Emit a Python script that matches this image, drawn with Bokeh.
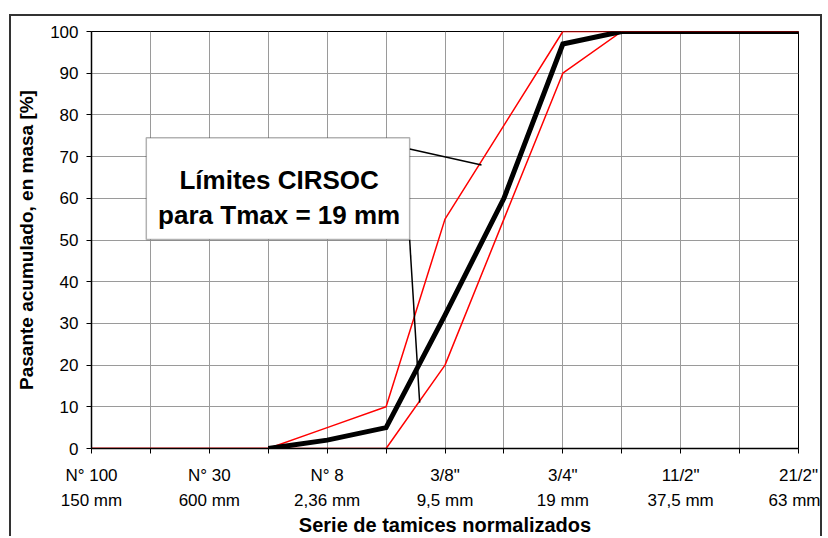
import math

from bokeh.plotting import figure
from bokeh.models import (FixedTicker, LinearAxis, Range1d, BoxAnnotation,
                          Label, ColumnDataSource)
from bokeh.embed import file_html
from bokeh.resources import INLINE

# Sieve series (x positions are the sieve index along the axis)
sieves = ["N° 100", "N° 50", "N° 30", "N° 16", "N° 8", "N° 4",
          '3/8"', '1/2"', '3/4"', '1"', '11/2"', '2"', '21/2"']
openings = ["150 mm", "300 mm", "600 mm", "1,18 mm", "2,36 mm", "4,75 mm",
            "9,5 mm", "12,5 mm", "19 mm", "25 mm", "37,5 mm", "50 mm", "63 mm"]
label_step = 2  # only every other sieve is labelled

nan = math.nan
# Cumulative % passing of the aggregate
pasante = [nan, nan, nan, 0, 2, 5, 32, 60, 97, 100, 100, 100, 100]
# CIRSOC grading limits for Tmax = 19 mm
limite_superior = [0, 0, 0, 0, 5, 10, 55, 77.5, 100, 100, 100, 100, 100]
limite_inferior = [0, 0, 0, 0, 0, 0, 20, 55, 90, 100, 100, 100, 100]

y_ticks = list(range(0, 101, 10))

FONT = "Liberation Sans"

idx = list(range(len(sieves)))
src = ColumnDataSource(dict(x=idx, pasante=pasante, sup=limite_superior,
                            inf=limite_inferior))

p = figure(width=813, height=522, x_range=Range1d(0, len(sieves) - 1),
           y_range=Range1d(0, 100), output_backend="svg",
           toolbar_location=None,
           min_border_left=80, min_border_right=26,
           min_border_top=15, min_border_bottom=90,
           margin=(14, 0, 0, 9),
           styles={"border-top": "2px solid #333",
                   "border-left": "2px solid #333",
                   "border-right": "2px solid #333"})
p.background_fill_color = "white"
p.border_fill_color = "white"
p.outline_line_color = "black"
p.outline_line_width = 1

# Grid
sieve_ticker = FixedTicker(ticks=idx)
p.xgrid.ticker = sieve_ticker
p.ygrid.ticker = FixedTicker(ticks=y_ticks)
for g in (p.xgrid[0], p.ygrid[0]):
    g.grid_line_color = "#9a9a9a"
    g.grid_line_width = 1

# Y axis
ya = p.yaxis[0]
ya.ticker = FixedTicker(ticks=y_ticks)
ya.axis_label = "Pasante acumulado, en masa [%]"
ya.axis_label_text_font = FONT
ya.axis_label_text_font_style = "bold"
ya.axis_label_text_font_size = "19px"
ya.axis_label_text_color = "black"
ya.axis_label_standoff = 10
ya.major_label_text_font = FONT
ya.major_label_text_font_size = "17px"
ya.major_label_text_color = "black"
ya.major_label_standoff = 8
ya.major_tick_out = 5
ya.major_tick_in = 0
ya.minor_tick_line_color = None
ya.axis_line_color = "black"
ya.axis_line_width = 1.5
ya.major_tick_line_color = "black"

# X axis: sieve names
xa = p.xaxis[0]
xa.ticker = sieve_ticker
xa.major_label_overrides = {i: (sieves[i] if i % label_step == 0 else "")
                            for i in idx}
xa.major_label_text_font = FONT
xa.major_label_text_font_size = "17px"
xa.major_label_text_color = "black"
xa.major_label_standoff = 12
xa.major_tick_out = 5
xa.major_tick_in = 0
xa.minor_tick_line_color = None
xa.axis_line_color = "black"
xa.axis_line_width = 1.5
xa.major_tick_line_color = "black"

# Second row of x labels: sieve openings, plus the axis title
xb = LinearAxis(ticker=sieve_ticker)
xb.major_label_overrides = {i: (openings[i] if i % label_step == 0 else "")
                            for i in idx}
xb.major_label_text_font = FONT
xb.major_label_text_font_size = "17px"
xb.major_label_text_color = "black"
xb.major_label_standoff = 3
xb.major_tick_out = 0
xb.major_tick_in = 0
xb.major_tick_line_color = None
xb.minor_tick_line_color = None
xb.axis_line_color = None
xb.axis_label = "Serie de tamices normalizados"
xb.axis_label_text_font = FONT
xb.axis_label_text_font_style = "bold"
xb.axis_label_text_font_size = "20px"
xb.axis_label_text_color = "black"
xb.axis_label_standoff = 1
p.add_layout(xb, "below")

# Limit curves and the aggregate curve
p.line("x", "sup", source=src, line_color="#ff0000", line_width=1.5)
p.line("x", "inf", source=src, line_color="#ff0000", line_width=1.5)
p.line("x", "pasante", source=src, line_color="black", line_width=5,
       line_join="miter")

# Callout for the limit curves
CALLOUT_LEFT, CALLOUT_RIGHT = 0.93, 5.40
CALLOUT_BOTTOM, CALLOUT_TOP = 50.1, 74.5
leader_x0 = [CALLOUT_RIGHT, CALLOUT_RIGHT]
leader_y0 = [71.8, CALLOUT_BOTTOM]
leader_x1 = [6.62, 5.57]
leader_y1 = [68.0, 11.0]
p.segment(x0=leader_x0, y0=leader_y0, x1=leader_x1, y1=leader_y1,
          line_color="black", line_width=1.5)

box = BoxAnnotation(left=CALLOUT_LEFT, right=CALLOUT_RIGHT,
                    bottom=CALLOUT_BOTTOM, top=CALLOUT_TOP,
                    fill_color="white", fill_alpha=1.0,
                    line_color="black", line_width=1.5)
p.add_layout(box)

callout_x = (CALLOUT_LEFT + CALLOUT_RIGHT) / 2 + 0.02
for txt, yb in (("Límites CIRSOC", 64.4), ("para Tmax = 19 mm", 56.0)):
    p.add_layout(Label(x=callout_x, y=yb, text=txt, text_align="center",
                       text_baseline="alphabetic", text_font=FONT,
                       text_font_style="bold", text_font_size="26px",
                       text_color="black"))

open("out.html", "w").write(file_html(p, INLINE))
